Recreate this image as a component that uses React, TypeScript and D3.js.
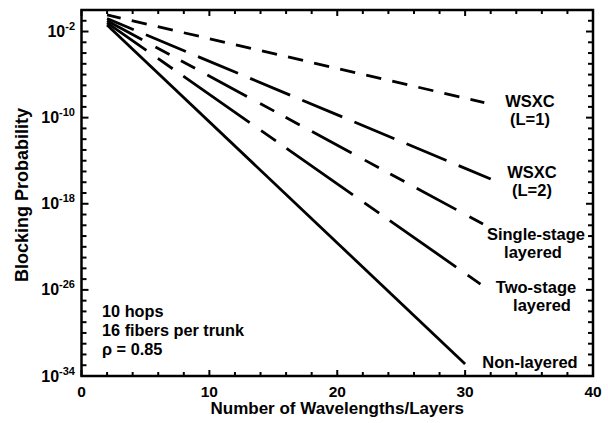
import React from 'react';
import * as d3 from 'd3';

const W = 608;
const H = 423;

// Axis ticks
const xMajorTicks = [0, 10, 20, 30, 40];
const xMinorTicks = d3.range(0, 41, 2);
const yLabelExps = [-2, -10, -18, -26, -34];
const yMinorExps = d3.range(0, -35, -1);

// Series (x = number of wavelengths/layers, y = blocking probability)
const wsxc1X = [2, 31.5];
const wsxc1Y = [3.5e-1, 2.5e-9];
const wsxc2X = [2, 32];
const wsxc2Y = [1.6e-1, 2e-16];
const singleX = [2, 31.4];
const singleY = [1e-1, 1.3e-20];
const twoX = [2, 31.2];
const twoY = [6.3e-2, 3.5e-26];
const nonX = [2, 30];
const nonY = [4e-2, 1.3e-33];

const series = [
  { xs: wsxc1X, ys: wsxc1Y, dash: '15.4,11.35', offset: 1.45, label: ['WSXC', '(L=1)'] },
  { xs: wsxc2X, ys: wsxc2Y, dash: '43.3,13.2', offset: 14.4, label: ['WSXC', '(L=2)'] },
  { xs: singleX, ys: singleY, dash: '45,15,16,13,16,14', offset: 5, label: ['Single-stage', 'layered'] },
  { xs: twoX, ys: twoY, dash: '81,14,18,13', offset: 33, label: ['Two-stage', 'layered'] },
  { xs: nonX, ys: nonY, dash: null, offset: 0, label: ['Non-layered'] },
];

// label positions (centre x, baseline y) per series line
const labelPos = [
  [[530, 107], [530, 125]],
  [[532, 178], [532, 196]],
  [[536, 240], [533, 258]],
  [[536, 293], [542, 311]],
  [[530, 368]],
];

const annotations = ['10 hops', '16 fibers per trunk', 'ρ = 0.85'];

const FONT = '"Liberation Sans", Arial, Helvetica, sans-serif';

export default function App() {
  const left = 81.5, right = 593, top = 10, bottom = 376;
  const x = d3.scaleLinear().domain([0, 40]).range([left, right]);
  const y = d3.scaleLog().domain([1e-34, 1]).range([bottom, top]);
  const line = d3
    .line<[number, number]>()
    .x((d) => x(d[0]))
    .y((d) => y(d[1]));

  return (
    <svg
      width={W}
      height={H}
      style={{ position: 'absolute', left: 0, top: 0, background: '#fff' }}
      fontFamily={FONT}
    >
      <rect x={0} y={0} width={W} height={H} fill="#fff" />
      {/* ticks */}
      {xMinorTicks.map((t) => {
        const len = xMajorTicks.includes(t) ? 6 : 4;
        return (
          <g key={'xt' + t} stroke="#000" strokeWidth={2}>
            <line x1={x(t)} x2={x(t)} y1={bottom} y2={bottom - len} />
            <line x1={x(t)} x2={x(t)} y1={top} y2={top + len} />
          </g>
        );
      })}
      {yMinorExps.map((e) => {
        const len = yLabelExps.includes(e) ? 7 : 5;
        const yy = y(Math.pow(10, e));
        return (
          <g key={'yt' + e} stroke="#000" strokeWidth={2}>
            <line x1={left} x2={left + len} y1={yy} y2={yy} />
            <line x1={right} x2={right - len} y1={yy} y2={yy} />
          </g>
        );
      })}
      {/* frame */}
      <rect
        x={left}
        y={top}
        width={right - left}
        height={bottom - top}
        fill="none"
        stroke="#000"
        strokeWidth={2.5}
      />
      {/* series */}
      {series.map((s, i) => (
        <path
          key={'s' + i}
          d={line(s.xs.map((v, j) => [v, s.ys[j]] as [number, number])) || ''}
          fill="none"
          stroke="#000"
          strokeWidth={2.8}
          strokeDasharray={s.dash || undefined}
          strokeDashoffset={s.offset}
        />
      ))}
      {/* series labels */}
      {series.map((s, i) =>
        s.label.map((lab, j) => (
          <text
            key={'l' + i + j}
            x={labelPos[i][j][0]}
            y={labelPos[i][j][1]}
            textAnchor="middle"
            fontSize={16.5}
            fontWeight="bold"
          >
            {lab}
          </text>
        ))
      )}
      {/* x tick labels */}
      {xMajorTicks.map((t) => (
        <text
          key={'xl' + t}
          x={x(t)}
          y={bottom + 21}
          textAnchor="middle"
          fontSize={15.5}
          fontWeight="bold"
        >
          {t}
        </text>
      ))}
      {/* y tick labels */}
      {yLabelExps.map((e) => (
        <text
          key={'yl' + e}
          x={75}
          y={y(Math.pow(10, e)) + 5.5}
          textAnchor="end"
          fontSize={16}
          fontWeight="bold"
        >
          10
          <tspan fontSize={11} dy={-7}>
            {String(e)}
          </tspan>
        </text>
      ))}
      {/* annotations */}
      {annotations.map((a, i) => (
        <text key={'a' + i} x={102} y={317 + i * 19} fontSize={16.3} fontWeight="bold">
          {a}
        </text>
      ))}
      {/* axis titles */}
      <text
        x={(left + right) / 2}
        y={414}
        textAnchor="middle"
        fontSize={17}
        fontWeight="bold"
      >
        Number of Wavelengths/Layers
      </text>
      <text
        transform={`translate(28,${(top + bottom) / 2 + 2}) rotate(-90)`}
        textAnchor="middle"
        fontSize={18}
        fontWeight="bold"
      >
        Blocking Probability
      </text>
    </svg>
  );
}
